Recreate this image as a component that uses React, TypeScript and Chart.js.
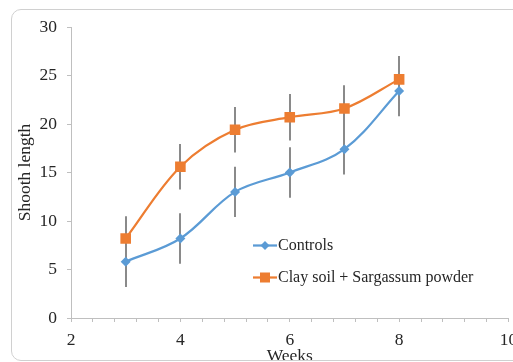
import React, { useEffect, useRef } from 'react';
import { Chart, registerables } from 'chart.js';

Chart.register(...registerables);

const weeks = [3, 4, 5, 6, 7, 8];
const controls = [5.8, 8.2, 13.0, 15.0, 17.4, 23.4];
const controlsErr = [2.6, 2.6, 2.6, 2.6, 2.6, 2.6];
const treatment = [8.2, 15.6, 19.4, 20.7, 21.6, 24.6];
const treatmentErr = [2.3, 2.35, 2.35, 2.4, 2.4, 2.4];
const seriesNames = ['Controls', 'Clay soil + Sargassum powder'];
const xTitle = 'Weeks';
const yTitle = 'Shooth length';

const BLUE = '#5B9BD5';
const ORANGE = '#ED7D31';
const AXIS = '#bfbfbf';
const TEXT = '#262626';
const FONT = '"Liberation Serif", "Times New Roman", serif';

const errorBarPlugin = {
  id: 'errorBars',
  beforeDatasetsDraw(chart: any) {
    const { ctx } = chart;
    const xs = chart.scales.x;
    const ys = chart.scales.y;
    const sets = [
      { v: controls, e: controlsErr },
      { v: treatment, e: treatmentErr },
    ];
    ctx.save();
    ctx.strokeStyle = '#8a8a8a';
    ctx.lineWidth = 2;
    sets.forEach((s) => {
      s.v.forEach((val, i) => {
        const x = Math.round(xs.getPixelForValue(weeks[i]));
        ctx.beginPath();
        ctx.moveTo(x, ys.getPixelForValue(val - s.e[i]));
        ctx.lineTo(x, ys.getPixelForValue(val + s.e[i]));
        ctx.stroke();
      });
    });
    ctx.restore();
  },
};

const legendPlugin = {
  id: 'innerLegend',
  afterDraw(chart: any) {
    const { ctx, chartArea } = chart;
    const x0 = chartArea.left + 182;
    const rows = [
      { y: chartArea.top + 218.5, color: BLUE, shape: 'diamond', label: seriesNames[0] },
      { y: chartArea.top + 250.5, color: ORANGE, shape: 'square', label: seriesNames[1] },
    ];
    ctx.save();
    rows.forEach((r) => {
      ctx.strokeStyle = r.color;
      ctx.lineWidth = 2.25;
      ctx.beginPath();
      ctx.moveTo(x0, r.y);
      ctx.lineTo(x0 + 24, r.y);
      ctx.stroke();
      ctx.fillStyle = r.color;
      const cx = x0 + 12;
      if (r.shape === 'diamond') {
        ctx.beginPath();
        ctx.moveTo(cx, r.y - 4.5);
        ctx.lineTo(cx + 4.5, r.y);
        ctx.lineTo(cx, r.y + 4.5);
        ctx.lineTo(cx - 4.5, r.y);
        ctx.closePath();
        ctx.fill();
      } else {
        ctx.fillRect(cx - 5, r.y - 5, 10, 10);
      }
      ctx.fillStyle = TEXT;
      ctx.font = `16px ${FONT}`;
      ctx.textBaseline = 'middle';
      ctx.textAlign = 'left';
      ctx.fillText(r.label, x0 + 25, r.y);
    });
    ctx.restore();
  },
};

export default function App() {
  const ref = useRef<HTMLCanvasElement>(null);

  useEffect(() => {
    if (!ref.current) return;
    const chart = new Chart(ref.current, {
      type: 'scatter',
      data: {
        datasets: [
          {
            label: seriesNames[0],
            data: weeks.map((w, i) => ({ x: w, y: controls[i] })),
            showLine: true,
            borderColor: BLUE,
            backgroundColor: BLUE,
            borderWidth: 2.25,
            tension: 0.35,
            pointStyle: 'rectRot',
            pointRadius: 5,
            pointBorderWidth: 0,
            pointBackgroundColor: BLUE,
          },
          {
            label: seriesNames[1],
            data: weeks.map((w, i) => ({ x: w, y: treatment[i] })),
            showLine: true,
            borderColor: ORANGE,
            backgroundColor: ORANGE,
            borderWidth: 2.25,
            tension: 0.35,
            pointStyle: 'rect',
            pointRadius: 7.5,
            pointBorderWidth: 0,
            pointBackgroundColor: ORANGE,
          },
        ],
      },
      options: {
        responsive: false,
        animation: false,
        events: [],
        layout: { padding: { top: 27, right: 1, left: 0, bottom: 0 } },
        plugins: { legend: { display: false }, tooltip: { enabled: false } },
        scales: {
          x: {
            type: 'linear',
            min: 2,
            max: 10,
            afterFit: (s: any) => {
              s.height = 57;
              s.paddingLeft = 0;
              s.paddingRight = 0;
            },
            ticks: {
              stepSize: 0.4,
              maxTicksLimit: 40,
              autoSkip: false,
              maxRotation: 0,
              minRotation: 0,
              padding: 8,
              color: TEXT,
              font: { family: FONT, size: 17.5 },
              callback: (v: any) => {
                const n = Number(v);
                return Math.abs(n - Math.round(n)) < 1e-6 && Math.round(n) % 2 === 0 ? String(Math.round(n)) : '';
              },
            },
            grid: { drawOnChartArea: false, drawTicks: true, tickLength: 4, color: AXIS },
            border: { color: AXIS, width: 1 },
            title: {
              display: true,
              text: xTitle,
              color: TEXT,
              font: { family: FONT, size: 17.5 },
              padding: { top: 0, bottom: 8 },
            },
          },
          y: {
            type: 'linear',
            min: 0,
            max: 30,
            afterFit: (s: any) => {
              s.width = 71;
            },
            ticks: {
              stepSize: 5,
              padding: 10,
              color: TEXT,
              font: { family: FONT, size: 17.5 },
            },
            grid: { drawOnChartArea: false, drawTicks: true, tickLength: 4, color: AXIS },
            border: { color: AXIS, width: 1 },
            title: {
              display: true,
              text: yTitle,
              color: TEXT,
              font: { family: FONT, size: 17.5 },
              padding: { top: 15, bottom: 0 },
            },
          },
        },
      },
      plugins: [errorBarPlugin, legendPlugin],
    });
    return () => chart.destroy();
  }, []);

  return (
    <div
      style={{
        position: 'fixed',
        left: 0,
        top: 0,
        width: 513,
        height: 362,
        overflow: 'hidden',
        background: '#fff',
      }}
    >
      <canvas ref={ref} width={516} height={375} style={{ display: 'block', width: 516, height: 375 }} />
      <div
        style={{
          position: 'absolute',
          left: 11,
          top: 9,
          width: 530,
          height: 350,
          border: '1px solid #d0d0d0',
          borderRadius: 10,
          pointerEvents: 'none',
        }}
      />
    </div>
  );
}
